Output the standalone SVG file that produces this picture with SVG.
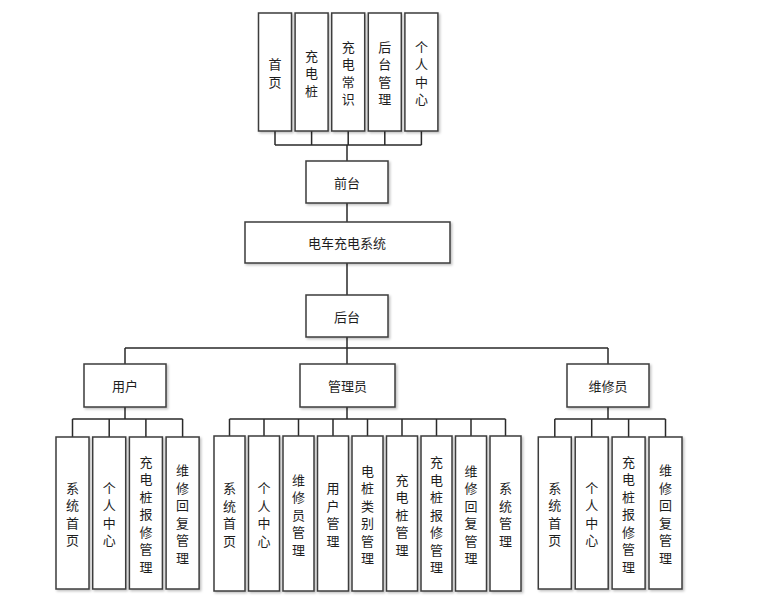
<svg xmlns="http://www.w3.org/2000/svg" width="757" height="605" viewBox="0 0 757 605">
<style>
.box{fill:#fff;stroke:#3c3c3c;stroke-width:1.5;filter:url(#sh)}
.t{font-family:"Noto Sans CJK SC","Microsoft YaHei",sans-serif;font-size:13px;fill:#1e1e1e;text-anchor:middle;dominant-baseline:central}
.ln{fill:none;stroke:#2a2a2a;stroke-width:1.5}
</style>
<defs>
<filter id="sh" x="-20%" y="-20%" width="140%" height="140%">
<feDropShadow dx="1.5" dy="1.5" stdDeviation="1" flood-color="#000" flood-opacity="0.25"/>
</filter>
</defs>
<rect width="757" height="605" fill="#fff"/>
<g id="connectors">
<path class="ln" d="M275,131V145M311.6,131V145M348.2,131V145M384.8,131V145M421.4,131V145M275,145H421.4M347,145V161"/>
<path class="ln" d="M347,203V222M347,263V295M347,337V348M125,348H608M125,348V364M347,348V364M608,348V364"/>
<path class="ln" d="M125,407V419M72.5,419H182.6M72.5,419V437M109.2,419V437M145.9,419V437M182.6,419V437"/>
<path class="ln" d="M347,407V419M229.5,419H505.5M229.5,419V436M264,419V436M298.5,419V436M333,419V436M367.5,419V436M402,419V436M436.5,419V436M471,419V436M505.5,419V436"/>
<path class="ln" d="M608,407V419M554.8,419H665.5M554.8,419V437M591.7,419V437M628.6,419V437M665.5,419V437"/>
</g>
<g id="top-nodes">
<g id="n-shouye"><rect class="box" x="258.5" y="13" width="33" height="118"/><text class="t"><tspan x="275" y="63.25">首</tspan><tspan x="275" y="80.75">页</tspan></text></g>
<g id="n-chongdianzhuang"><rect class="box" x="295.1" y="13" width="33" height="118"/><text class="t"><tspan x="311.6" y="54.5">充</tspan><tspan x="311.6" y="72">电</tspan><tspan x="311.6" y="89.5">桩</tspan></text></g>
<g id="n-changshi"><rect class="box" x="331.7" y="13" width="33" height="118"/><text class="t"><tspan x="348.2" y="45.75">充</tspan><tspan x="348.2" y="63.25">电</tspan><tspan x="348.2" y="80.75">常</tspan><tspan x="348.2" y="98.25">识</tspan></text></g>
<g id="n-houtaiguanli"><rect class="box" x="368.3" y="13" width="33" height="118"/><text class="t"><tspan x="384.8" y="45.75">后</tspan><tspan x="384.8" y="63.25">台</tspan><tspan x="384.8" y="80.75">管</tspan><tspan x="384.8" y="98.25">理</tspan></text></g>
<g id="n-gerenzhongxin"><rect class="box" x="404.9" y="13" width="33" height="118"/><text class="t"><tspan x="421.4" y="45.75">个</tspan><tspan x="421.4" y="63.25">人</tspan><tspan x="421.4" y="80.75">中</tspan><tspan x="421.4" y="98.25">心</tspan></text></g>
</g>
<g id="n-qiantai"><rect class="box" x="306" y="161" width="82" height="42"/><text class="t" x="347" y="182">前台</text></g>
<g id="n-system"><rect class="box" x="245" y="222" width="205" height="41"/><text class="t" x="347" y="242.5">电车充电系统</text></g>
<g id="n-houtai"><rect class="box" x="306" y="295" width="82" height="42"/><text class="t" x="347" y="316">后台</text></g>
<g id="n-yonghu"><rect class="box" x="84" y="364" width="82" height="43"/><text class="t" x="125" y="385.5">用户</text></g>
<g id="n-guanliyuan"><rect class="box" x="300" y="364" width="95" height="43"/><text class="t" x="347.5" y="385.5">管理员</text></g>
<g id="n-weixiuyuan"><rect class="box" x="567" y="364" width="82" height="43"/><text class="t" x="608" y="385.5">维修员</text></g>
<g id="user-children">
<g id="u1"><rect class="box" x="56" y="437" width="33" height="152"/><text class="t"><tspan x="72.5" y="486.75">系</tspan><tspan x="72.5" y="504.25">统</tspan><tspan x="72.5" y="521.75">首</tspan><tspan x="72.5" y="539.25">页</tspan></text></g>
<g id="u2"><rect class="box" x="92.7" y="437" width="33" height="152"/><text class="t"><tspan x="109.2" y="486.75">个</tspan><tspan x="109.2" y="504.25">人</tspan><tspan x="109.2" y="521.75">中</tspan><tspan x="109.2" y="539.25">心</tspan></text></g>
<g id="u3"><rect class="box" x="129.4" y="437" width="33" height="152"/><text class="t"><tspan x="145.9" y="460.5">充</tspan><tspan x="145.9" y="478">电</tspan><tspan x="145.9" y="495.5">桩</tspan><tspan x="145.9" y="513">报</tspan><tspan x="145.9" y="530.5">修</tspan><tspan x="145.9" y="548">管</tspan><tspan x="145.9" y="565.5">理</tspan></text></g>
<g id="u4"><rect class="box" x="166.1" y="437" width="33" height="152"/><text class="t"><tspan x="182.6" y="469.25">维</tspan><tspan x="182.6" y="486.75">修</tspan><tspan x="182.6" y="504.25">回</tspan><tspan x="182.6" y="521.75">复</tspan><tspan x="182.6" y="539.25">管</tspan><tspan x="182.6" y="556.75">理</tspan></text></g>
</g>
<g id="admin-children">
<g id="a1"><rect class="box" x="214" y="436" width="31" height="155"/><text class="t"><tspan x="229.5" y="487.25">系</tspan><tspan x="229.5" y="504.75">统</tspan><tspan x="229.5" y="522.25">首</tspan><tspan x="229.5" y="539.75">页</tspan></text></g>
<g id="a2"><rect class="box" x="248.5" y="436" width="31" height="155"/><text class="t"><tspan x="264" y="487.25">个</tspan><tspan x="264" y="504.75">人</tspan><tspan x="264" y="522.25">中</tspan><tspan x="264" y="539.75">心</tspan></text></g>
<g id="a3"><rect class="box" x="283" y="436" width="31" height="155"/><text class="t"><tspan x="298.5" y="478.5">维</tspan><tspan x="298.5" y="496">修</tspan><tspan x="298.5" y="513.5">员</tspan><tspan x="298.5" y="531">管</tspan><tspan x="298.5" y="548.5">理</tspan></text></g>
<g id="a4"><rect class="box" x="317.5" y="436" width="31" height="155"/><text class="t"><tspan x="333" y="487.25">用</tspan><tspan x="333" y="504.75">户</tspan><tspan x="333" y="522.25">管</tspan><tspan x="333" y="539.75">理</tspan></text></g>
<g id="a5"><rect class="box" x="352" y="436" width="31" height="155"/><text class="t"><tspan x="367.5" y="469.75">电</tspan><tspan x="367.5" y="487.25">桩</tspan><tspan x="367.5" y="504.75">类</tspan><tspan x="367.5" y="522.25">别</tspan><tspan x="367.5" y="539.75">管</tspan><tspan x="367.5" y="557.25">理</tspan></text></g>
<g id="a6"><rect class="box" x="386.5" y="436" width="31" height="155"/><text class="t"><tspan x="402" y="478.5">充</tspan><tspan x="402" y="496">电</tspan><tspan x="402" y="513.5">桩</tspan><tspan x="402" y="531">管</tspan><tspan x="402" y="548.5">理</tspan></text></g>
<g id="a7"><rect class="box" x="421" y="436" width="31" height="155"/><text class="t"><tspan x="436.5" y="461">充</tspan><tspan x="436.5" y="478.5">电</tspan><tspan x="436.5" y="496">桩</tspan><tspan x="436.5" y="513.5">报</tspan><tspan x="436.5" y="531">修</tspan><tspan x="436.5" y="548.5">管</tspan><tspan x="436.5" y="566">理</tspan></text></g>
<g id="a8"><rect class="box" x="455.5" y="436" width="31" height="155"/><text class="t"><tspan x="471" y="469.75">维</tspan><tspan x="471" y="487.25">修</tspan><tspan x="471" y="504.75">回</tspan><tspan x="471" y="522.25">复</tspan><tspan x="471" y="539.75">管</tspan><tspan x="471" y="557.25">理</tspan></text></g>
<g id="a9"><rect class="box" x="490" y="436" width="31" height="155"/><text class="t"><tspan x="505.5" y="487.25">系</tspan><tspan x="505.5" y="504.75">统</tspan><tspan x="505.5" y="522.25">管</tspan><tspan x="505.5" y="539.75">理</tspan></text></g>
</g>
<g id="repair-children">
<g id="r1"><rect class="box" x="538.3" y="437" width="33" height="152"/><text class="t"><tspan x="554.8" y="486.75">系</tspan><tspan x="554.8" y="504.25">统</tspan><tspan x="554.8" y="521.75">首</tspan><tspan x="554.8" y="539.25">页</tspan></text></g>
<g id="r2"><rect class="box" x="575.2" y="437" width="33" height="152"/><text class="t"><tspan x="591.7" y="486.75">个</tspan><tspan x="591.7" y="504.25">人</tspan><tspan x="591.7" y="521.75">中</tspan><tspan x="591.7" y="539.25">心</tspan></text></g>
<g id="r3"><rect class="box" x="612.1" y="437" width="33" height="152"/><text class="t"><tspan x="628.6" y="460.5">充</tspan><tspan x="628.6" y="478">电</tspan><tspan x="628.6" y="495.5">桩</tspan><tspan x="628.6" y="513">报</tspan><tspan x="628.6" y="530.5">修</tspan><tspan x="628.6" y="548">管</tspan><tspan x="628.6" y="565.5">理</tspan></text></g>
<g id="r4"><rect class="box" x="649" y="437" width="33" height="152"/><text class="t"><tspan x="665.5" y="469.25">维</tspan><tspan x="665.5" y="486.75">修</tspan><tspan x="665.5" y="504.25">回</tspan><tspan x="665.5" y="521.75">复</tspan><tspan x="665.5" y="539.25">管</tspan><tspan x="665.5" y="556.75">理</tspan></text></g>
</g>
</svg>
